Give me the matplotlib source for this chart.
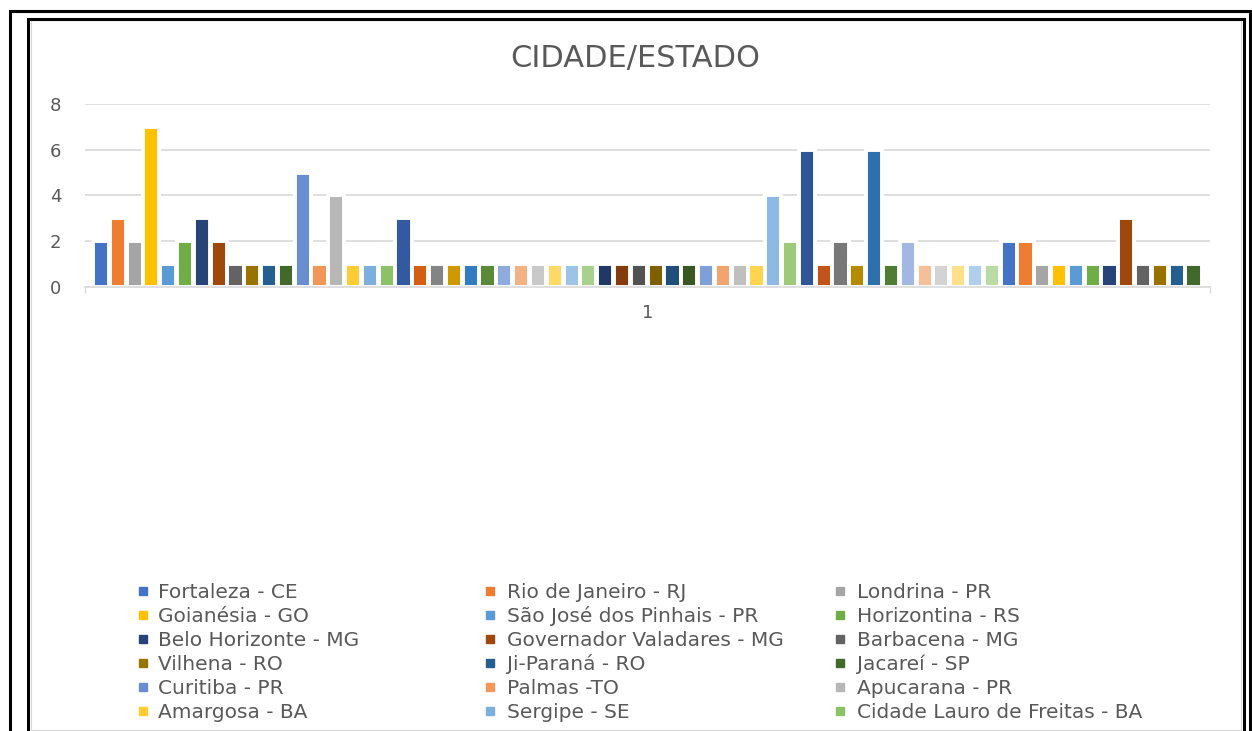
import matplotlib
matplotlib.use("Agg")
import matplotlib.pyplot as plt
from matplotlib.lines import Line2D
from matplotlib.patches import Rectangle

W, H = 1252, 731

cidades = [
    "Fortaleza - CE", "Rio de Janeiro - RJ", "Londrina - PR",
    "Goianésia - GO", "São José dos Pinhais - PR", "Horizontina - RS",
    "Belo Horizonte - MG", "Governador Valadares - MG", "Barbacena - MG",
    "Vilhena - RO", "Ji-Paraná - RO", "Jacareí - SP",
    "Curitiba - PR", "Palmas -TO", "Apucarana - PR",
    "Amargosa - BA", "Sergipe - SE", "Cidade Lauro de Freitas - BA",
]

valores = [
    2, 3, 2, 7, 1, 2, 3, 2, 1, 1, 1, 1, 5, 1, 4, 1, 1, 1,
    3, 1, 1, 1, 1, 1, 1, 1, 1, 1, 1, 1, 1, 1, 1, 1, 1, 1,
    1, 1, 1, 1, 4, 2, 6, 1, 2, 1, 6, 1, 2, 1, 1, 1, 1, 1,
    2, 2, 1, 1, 1, 1, 1, 3, 1, 1, 1, 1,
]

cores = [
    "#4472C4", "#ED7D31", "#A5A5A5", "#FFC000", "#5B9BD5", "#70AD47",
    "#264478", "#9E480E", "#636363", "#997300", "#255E91", "#43682B",
    "#698ED0", "#F1975A", "#B7B7B7", "#FFCD33", "#7CAFDD", "#8CC168",
    "#335AA1", "#D26012", "#848484", "#CC9A00", "#327DC2", "#5A8A39",
    "#8FAADC", "#F4B183", "#C9C9C9", "#FFD966", "#9DC3E6", "#A9D18E",
    "#203864", "#843C0C", "#525252", "#7F6000", "#1F4E79", "#385723",
    "#7F9FD8", "#F2A46F", "#BFBFBF", "#FFD54F", "#8DB9E2", "#9DC97A",
    "#2F5597", "#C0541B", "#787878", "#B38A00", "#2E6FAE", "#4E7D33",
    "#A2B7E2", "#F6BF9A", "#D3D3D3", "#FFE08A", "#B0CFEC", "#BBDBA4",
    "#4472C4", "#ED7D31", "#A5A5A5", "#FFC000", "#5B9BD5", "#70AD47",
    "#264478", "#9E480E", "#636363", "#997300", "#255E91", "#43682B",
]

TXT = "#595959"
GRID = "#D9D9D9"
plt.rcParams["font.family"] = ["DejaVu Sans"]


def fx(px):
    return px / W


def fy(py):
    return 1 - py / H


fig = plt.figure(figsize=(W / 100, H / 100), dpi=100)
ax = fig.add_axes([fx(85), fy(287), (1210 - 85) / W, (287 - 104) / H])

x = list(range(len(valores)))
ax.bar(x, valores, width=0.96, color=cores, edgecolor="white",
       linewidth=2.8, zorder=2)

ax.set_ylim(0, 8)
ax.set_xlim(-0.95, 65.98)
ax.set_yticks([0, 2, 4, 6, 8])
ax.set_xticks([32.5])
ax.set_xticklabels(["1"])
ax.set_xticks([-0.95, 65.98], minor=True)
ax.tick_params(axis="y", length=0, pad=17, labelsize=13, labelcolor=TXT)
ax.tick_params(axis="x", which="major", length=0, pad=12, labelsize=13,
               labelcolor=TXT)
ax.tick_params(axis="x", which="minor", length=4, width=1, color=GRID,
               direction="out")
ax.yaxis.grid(True, color=GRID, linewidth=1.2, zorder=0)
ax.set_axisbelow(True)
for s in ["left", "right", "top"]:
    ax.spines[s].set_visible(False)
ax.spines["bottom"].set_color(GRID)
ax.spines["bottom"].set_linewidth(1.2)

fig.text(fx(635), fy(59), "CIDADE/ESTADO", ha="center", va="center",
         fontsize=22, color=TXT)

# legenda: 3 colunas, ordem por linha (como no Excel)
col_marker = [143, 490, 840]
col_text = [158, 507, 857]
for i, nome in enumerate(cidades):
    lin, col = divmod(i, 3)
    yc = 591 + 24 * lin
    fig.add_artist(Line2D([fx(col_marker[col])], [fy(yc)], marker="s",
                          markersize=5.2, linestyle="none",
                          markerfacecolor=cores[i], markeredgecolor=cores[i],
                          transform=fig.transFigure))
    fig.text(fx(col_text[col]), fy(yc + 7.3), nome, ha="left", va="baseline",
             fontsize=14.5, color=TXT)

# molduras
def moldura(x0, x1, ytop, cor, lw):
    fig.add_artist(Line2D([fx(x0), fx(x0), fx(x1), fx(x1)],
                          [fy(760), fy(ytop), fy(ytop), fy(760)],
                          color=cor, linewidth=lw, transform=fig.transFigure,
                          solid_joinstyle="miter"))

moldura(9.5, 1249.5, 10.5, "black", 2.2)
moldura(27.5, 1243.5, 18.5, "black", 2.2)
fig.add_artist(Rectangle((fx(30.5), fy(729.5)), fx(1240.5) - fx(30.5),
                         fy(20.5) - fy(729.5), fill=False, edgecolor=GRID,
                         linewidth=0.8, transform=fig.transFigure))

fig.savefig("out.png", dpi=100, facecolor="white")
